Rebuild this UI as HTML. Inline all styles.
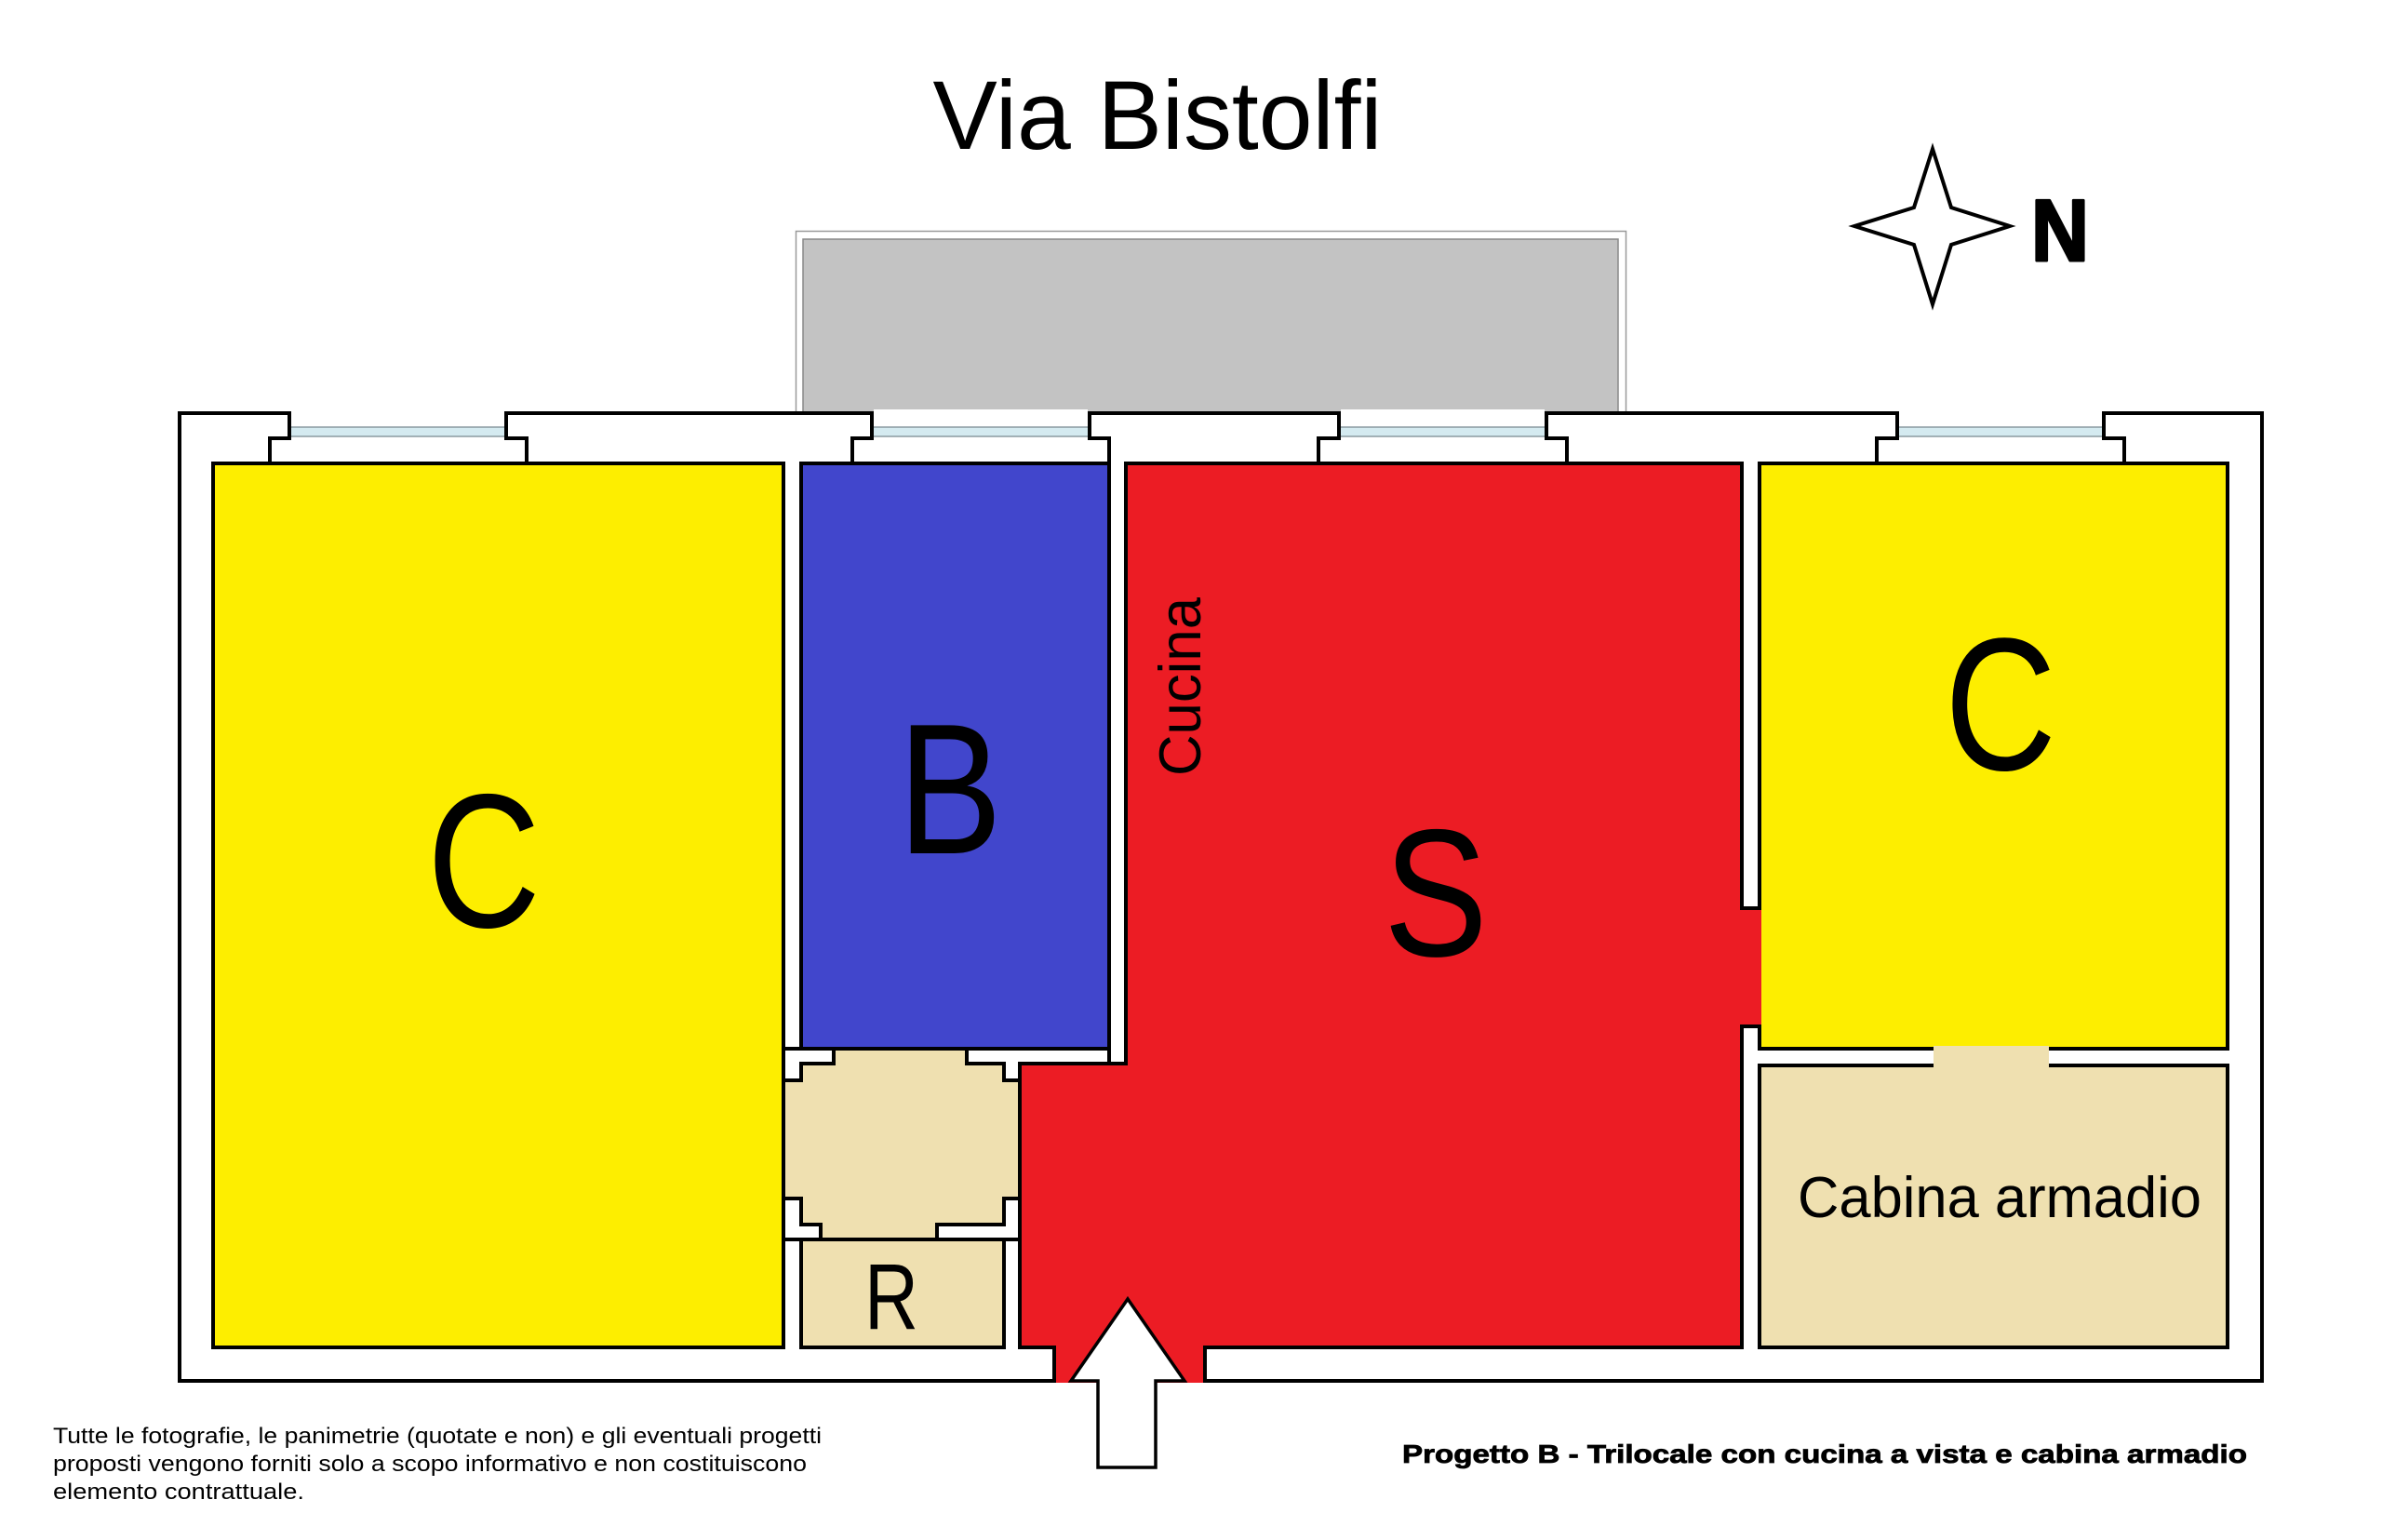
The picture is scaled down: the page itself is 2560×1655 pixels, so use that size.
<!DOCTYPE html>
<html><head><meta charset="utf-8"><style>
html,body{margin:0;padding:0;background:#fff;}
svg{display:block;}
text{font-family:"Liberation Sans",sans-serif;fill:#000;}
</style></head><body>
<svg width="2560" height="1655" viewBox="0 0 2560 1655" xmlns="http://www.w3.org/2000/svg">
<rect width="2560" height="1655" fill="#fff"/>
<text x="1244" y="160" font-size="105" text-anchor="middle" textLength="483" lengthAdjust="spacingAndGlyphs">Via Bistolfi</text>
<polygon points="2077,160 2097,223 2160,243 2097,263 2077,327 2057,263 1993,243 2057,223" fill="#fff" stroke="#000" stroke-width="4"/>
<text x="2183" y="280" font-size="94" font-weight="bold" textLength="62" lengthAdjust="spacingAndGlyphs" stroke="#000" stroke-width="3" stroke-linejoin="round">N</text>
<rect x="855.5" y="248.5" width="892" height="196" fill="#fff" stroke="#999" stroke-width="1.5"/>
<rect x="863" y="257" width="876" height="187" fill="#c3c3c3" stroke="#888" stroke-width="1.5"/>
<rect x="193" y="444" width="2238" height="1040" fill="#fff" stroke="#000" stroke-width="4"/>
<g>
 <rect x="313" y="440" width="229" height="34" fill="#fff"/>
 <rect x="939" y="440" width="230" height="34" fill="#fff"/>
 <rect x="1441" y="440" width="219" height="34" fill="#fff"/>
 <rect x="2041" y="440" width="218" height="34" fill="#fff"/>
 <g fill="#d4eaf0" stroke="#8a9aa0" stroke-width="1.5">
  <rect x="311" y="459" width="233" height="10"/>
  <rect x="937" y="459" width="234" height="10"/>
  <rect x="1439" y="459" width="223" height="10"/>
  <rect x="2039" y="459" width="222" height="10"/>
 </g>
 <g fill="none" stroke="#000" stroke-width="4">
  <polyline points="311,444 311,471 290,471 290,498"/>
  <polyline points="544,444 544,471 566,471 566,498"/>
  <polyline points="937,444 937,471 916,471 916,498"/>
  <polyline points="1171,444 1171,471 1192,471 1192,498"/>
  <polyline points="1439,444 1439,471 1417,471 1417,498"/>
  <polyline points="1662,444 1662,471 1684,471 1684,498"/>
  <polyline points="2039,444 2039,471 2017,471 2017,498"/>
  <polyline points="2261,444 2261,471 2283,471 2283,498"/>
 </g>
</g>
<g stroke="#000" stroke-width="4" stroke-linejoin="miter">
 <rect x="842" y="1127" width="254" height="205" fill="#efe0b0" stroke="none"/>
 <rect x="229" y="498" width="613" height="950" fill="#fdee00"/>
 <rect x="861" y="498" width="331" height="629" fill="#4146cc"/>
 <rect x="861" y="1332" width="218" height="116" fill="#efe0b0"/>
 <polygon points="1210,498 1872,498 1872,976 1891,976 1891,1103 1872,1103 1872,1448 1295,1448 1295,1484 1133,1484 1133,1448 1096,1448 1096,1143 1210,1143" fill="#ec1c24"/>
 <rect x="1891" y="498" width="503" height="629" fill="#fdee00"/>
 <rect x="1891" y="1145" width="503" height="303" fill="#efe0b0"/>
 <rect x="2078" y="1124" width="124" height="24" fill="#efe0b0" stroke="none"/>
 <polygon points="842,1161 842,1127 896,1127 896,1143 861,1143 861,1161" fill="#fff"/>
 <polygon points="1039,1127 1192,1127 1192,1143 1096,1143 1096,1161 1079,1161 1079,1143 1039,1143" fill="#fff"/>
 <polygon points="842,1288 861,1288 861,1316 882,1316 882,1332 842,1332" fill="#fff"/>
 <polygon points="1096,1288 1079,1288 1079,1316 1007,1316 1007,1332 1096,1332" fill="#fff"/>
</g>
<rect x="1870" y="978" width="23" height="123" fill="#ec1c24"/>
<rect x="1135" y="1443" width="158" height="43" fill="#ec1c24"/>
<rect x="844" y="1163" width="14" height="123" fill="#efe0b0"/>
<polygon points="1212,1396 1273,1484 1242,1484 1242,1577 1180,1577 1180,1484 1151,1484" fill="#fff" stroke="#000" stroke-width="3.5"/>
<text x="520" y="996" font-size="205" text-anchor="middle" textLength="122" lengthAdjust="spacingAndGlyphs">C</text>
<text x="1021" y="917" font-size="200" text-anchor="middle" textLength="112" lengthAdjust="spacingAndGlyphs">B</text>
<text x="958" y="1428" font-size="100" text-anchor="middle" textLength="58" lengthAdjust="spacingAndGlyphs">R</text>
<text x="1543" y="1027" font-size="195" text-anchor="middle" textLength="112" lengthAdjust="spacingAndGlyphs">S</text>
<text x="2150" y="827" font-size="203" text-anchor="middle" textLength="120" lengthAdjust="spacingAndGlyphs">C</text>
<text transform="translate(1290,738) rotate(-90)" x="0" y="0" font-size="63" text-anchor="middle" textLength="192" lengthAdjust="spacingAndGlyphs">Cucina</text>
<text x="1932" y="1308" font-size="62" textLength="434" lengthAdjust="spacingAndGlyphs">Cabina armadio</text>
<text x="57" y="1551" font-size="24" textLength="826" lengthAdjust="spacingAndGlyphs">Tutte le fotografie, le panimetrie (quotate e non) e gli eventuali progetti</text>
<text x="57" y="1581" font-size="24" textLength="810" lengthAdjust="spacingAndGlyphs">proposti vengono forniti solo a scopo informativo e non costituiscono</text>
<text x="57" y="1611" font-size="24" textLength="270" lengthAdjust="spacingAndGlyphs">elemento contrattuale.</text>
<text x="1507" y="1572" font-size="28" font-weight="bold" textLength="908" lengthAdjust="spacingAndGlyphs" stroke="#000" stroke-width="0.8">Progetto B - Trilocale con cucina a vista e cabina armadio</text>
</svg>
</body></html>
